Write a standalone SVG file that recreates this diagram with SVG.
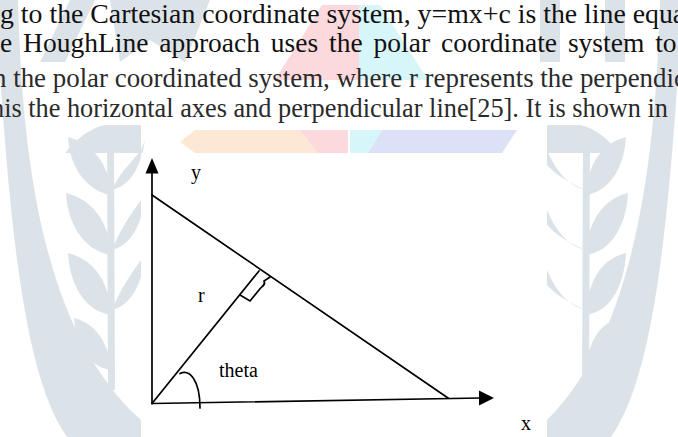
<svg xmlns="http://www.w3.org/2000/svg" width="678" height="437" viewBox="0 0 678 437">
  <style>
    .wm { fill: #dce3e8; }
    .para { font-family: "Liberation Serif", "Times New Roman", serif; fill: #111; }
    .para2 { font-family: "Liberation Serif", "Times New Roman", serif; fill: #2a2a2a; }
    .ln { stroke: #000; stroke-width: 1.7; fill: none; stroke-linecap: round; }
    .lbl { font-family: "Liberation Serif", "Times New Roman", serif; font-size: 20px; fill: #000; }
  </style>
  <rect x="0" y="0" width="678" height="437" fill="#ffffff"/>
  <g id="watermark">
    <path class="wm" d="M-5,0 L18,0 C22,150 40,330 141,420 L141,437 L67,437 C20,370 8,200 -5,0 Z"/>
    <path class="wm" d="M683,0 L660,0 C656,150 638,330 547,420 L547,437 L611,437 C658,370 670,200 683,0 Z"/>
    <path class="wm" d="M107,140 L114,140 L115,390 L108,390 Z"/>
    <path class="wm" d="M112,195 C92,193 70,173 68,137 C90,143 108,160 112,195 Z"/>
    <path class="wm" d="M112,255 C90,253 68,231 66,193 C90,199 108,218 112,255 Z"/>
    <path class="wm" d="M112,315 C90,313 70,291 68,253 C92,259 108,278 112,315 Z"/>
    <path class="wm" d="M112,370 C92,368 76,350 74,318 C94,323 108,340 112,370 Z"/>
    <path class="wm" d="M112,190 C128,186 140,172 145,140 L141,150 C132,162 120,172 112,190 Z"/>
    <path class="wm" d="M112,250 C128,246 140,230 145,200 L141,200 C130,215 120,230 112,250 Z"/>
    <path class="wm" d="M112,310 C128,306 140,290 145,260 L141,260 C130,275 120,290 112,310 Z"/>
    <path class="wm" d="M583,140 L590,140 L589,390 L582,390 Z"/>
    <path class="wm" d="M585,195 C605,193 624,173 626,137 C604,143 589,160 585,195 Z"/>
    <path class="wm" d="M585,255 C607,253 626,231 628,193 C604,199 589,218 585,255 Z"/>
    <path class="wm" d="M585,315 C607,313 624,291 626,253 C602,259 589,278 585,315 Z"/>
    <path class="wm" d="M585,370 C605,368 618,350 620,318 C600,323 589,340 585,370 Z"/>
    <path class="wm" d="M585,190 C569,186 556,172 547,150 L547,165 C556,175 568,182 585,190 Z"/>
    <path class="wm" d="M585,250 C569,246 556,232 547,210 L547,225 C556,235 568,242 585,250 Z"/>
    <path class="wm" d="M585,310 C569,306 556,292 547,270 L547,285 C556,295 568,302 585,310 Z"/>
    <path class="wm" d="M40,62 L70,0 L95,0 L65,62 Z"/>
    <path class="wm" d="M110,0 L210,0 L185,62 L150,40 L120,62 Z"/>
    <path class="wm" d="M65,153 C75,140 90,128 105,125 L141,125 L141,153 Z"/>
    <path class="wm" d="M540,0 L560,0 L560,62 L540,62 Z"/>
    <path class="wm" d="M605,0 L625,0 L625,62 L605,62 Z"/>
    <path class="wm" d="M547,125 L580,125 C595,128 610,140 618,153 L547,153 Z"/>
    <path fill="#fbd9dc" d="M322,5 L359,5 L359,80 L275,80 Z"/>
    <path fill="#d6f6fa" d="M359,5 L380,5 L428,80 L359,80 Z"/>
    <path fill="#fde8d6" d="M195,130 L305,130 L320,153 L195,153 L180,142 Z"/>
    <path fill="#fbd9dc" d="M300,130 L348,130 L348,153 L318,153 Z"/>
    <path fill="#d6f6fa" d="M350,130 L382,130 L368,153 L350,153 Z"/>
    <path fill="#dbe2f8" d="M382,130 L517,130 L502,153 L368,153 Z"/>
  </g>
  <g id="paragraph">
    <text class="para" x="0" y="23" font-size="27.8">g to the Cartesian coordinate system, y=mx+c is the line equa</text>
    <text class="para" x="0" y="52" font-size="27.5" word-spacing="4">e HoughLine approach uses the polar coordinate system to</text>
    <text class="para2" x="-7" y="87" font-size="26.9">n the polar coordinated system, where r represents the perpendic</text>
    <text class="para2" x="-9" y="117" font-size="26.3">his the horizontal axes and perpendicular line[25]. It is shown in</text>
  </g>
  <rect id="figure-bg" x="141" y="153" width="406" height="284" fill="#ffffff"/>
  <g id="connectors">
    <line class="ln" x1="152" y1="403.5" x2="152" y2="172"/>
    <polygon points="152,158 145.5,173.5 158.5,173.5" fill="#000"/>
    <line class="ln" x1="152" y1="403.5" x2="481" y2="398"/>
    <polygon points="494,398 479,390.5 479,405.5" fill="#000"/>
    <line class="ln" x1="152" y1="195" x2="448" y2="398"/>
    <line class="ln" x1="152" y1="403.5" x2="259" y2="271"/>
    <path class="ln" d="M240,295 L250,301 L259,290 C262,286 266,285 264,281 L270,277"/>
    <path class="ln" d="M180,373.5 C189,369 200,379 200,408"/>
  </g>
  <g id="label-y"><text class="lbl" x="191" y="179">y</text></g>
  <g id="label-r"><text class="lbl" x="198" y="302">r</text></g>
  <g id="label-theta"><text class="lbl" x="219" y="377" font-size="18">theta</text></g>
  <g id="label-x"><text class="lbl" x="521" y="430">x</text></g>
</svg>
